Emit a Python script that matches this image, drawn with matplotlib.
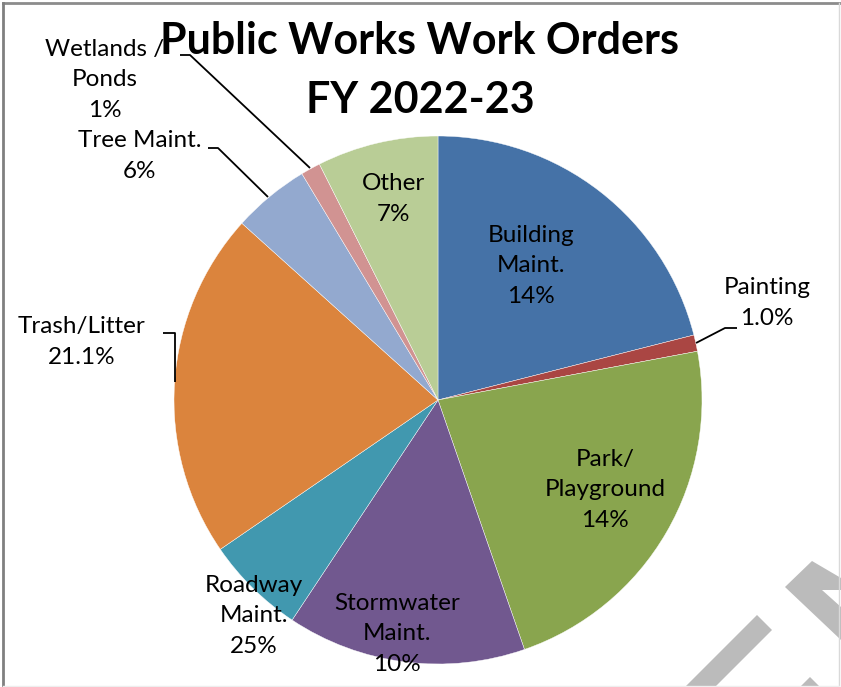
import matplotlib
matplotlib.use("Agg")
import matplotlib.pyplot as plt
from matplotlib.patches import Polygon

W, H = 841, 687

categories = ["Building Maint.", "Painting", "Park/Playground", "Stormwater Maint.",
              "Roadway Maint.", "Trash/Litter", "Tree Maint.", "Wetlands / Ponds", "Other"]
values = [21.0, 1.0, 22.6, 14.6, 6.1, 21.2, 4.7, 1.2, 7.4]
label_texts = ["Building\nMaint.\n14%", "Painting\n1.0%", "Park/\nPlayground\n14%",
               "Stormwater\nMaint.\n10%", "Roadway\nMaint.\n25%", "Trash/Litter\n21.1%",
               "Tree Maint.\n6%", "Wetlands /\nPonds\n1%", "Other\n7%"]
colors = ["#4572A7", "#AA4643", "#89A54E", "#71588F", "#4198AF",
          "#DB843D", "#93A9CF", "#D19392", "#B9CD96"]
title_lines = ["Public Works Work Orders", "FY 2022-23"]

# layout (pixel coordinates, y measured from top)
cx, cy, R = 438, 400, 264
label_pos = [(531, 266), (767, 303), (605, 490), (397, 634), (254, 616),
             (82, 342), (140, 156), (105, 80), (394, 199)]
leaders = [None,
           [(696, 343), (725, 328), (737, 328)],
           None, None, None,
           [(163, 333), (175, 333), (175, 382)],
           [(208, 148), (218, 148), (268, 197)],
           [(180, 55), (190, 55), (310, 168)],
           None]

def Y(y):
    return H - y

fig = plt.figure(figsize=(W / 100, H / 100), dpi=100)
ax = fig.add_axes([0, 0, 1, 1])
ax.pie(values, colors=colors, startangle=90, counterclock=False,
       center=(cx, Y(cy)), radius=R,
       wedgeprops=dict(edgecolor="white", linewidth=0.3))
ax.set_xlim(0, W)
ax.set_ylim(0, H)
ax.set_aspect("auto")
ax.axis("off")

FONT = "Lato"
for txt, (x, y) in zip(label_texts, label_pos):
    ax.text(x, Y(y), txt, ha="center", va="center", fontsize=17.5, family=FONT,
            color="black", linespacing=1.55)

for pts in leaders:
    if pts:
        ax.plot([p[0] for p in pts], [Y(p[1]) for p in pts], color="black", lw=1.3,
                solid_capstyle="butt")

ax.text(420, Y(41), title_lines[0], ha="center", va="center", fontsize=31,
        fontweight="bold", family=FONT)
ax.text(420, Y(100), title_lines[1], ha="center", va="center", fontsize=31,
        fontweight="bold", family=FONT)

# watermark fragments
wm = "#bbbbbb"
for poly in [
    [(757, 615), (772, 630), (715, 687), (685, 687)],
    [(812, 561), (841, 578), (841, 590), (822, 590), (841, 607), (841, 640), (785, 587)],
    [(800, 687), (810, 677), (820, 687)],
]:
    ax.add_patch(Polygon([(x, Y(y)) for x, y in poly], closed=True, facecolor=wm,
                         edgecolor="none"))

# frame
ax.plot([3, W], [Y(3), Y(3)], color="#8c8c8c", lw=2)
ax.plot([3.5, 3.5], [Y(3), Y(687)], color="#808080", lw=2)
ax.plot([839, 839], [Y(3), Y(686)], color="#d9d9d9", lw=1)
ax.plot([3, 839], [Y(686), Y(686)], color="#eeeeee", lw=1)

fig.savefig("out.png", dpi=100)
